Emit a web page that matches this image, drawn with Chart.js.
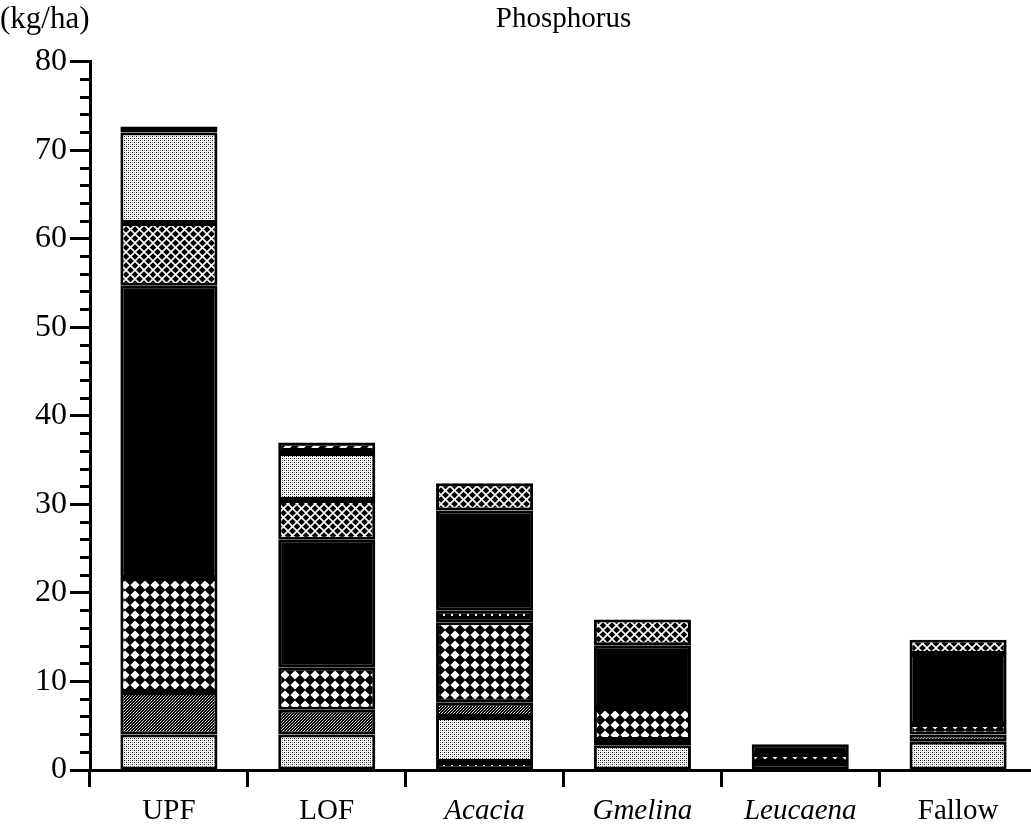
<!DOCTYPE html>
<html>
<head>
<meta charset="utf-8">
<script src="https://cdn.jsdelivr.net/npm/chart.js@4.4.1/dist/chart.umd.min.js"></script>
<style>
  html, body { margin: 0; padding: 0; background: #fff; overflow: hidden; }
  #wrap { width: 1037px; height: 827px; position: relative; }
</style>
</head>
<body>
<div id="wrap"><canvas id="chart"></canvas></div>
<script>
// categories (italic = genus names)
const sites = ['UPF', 'LOF', 'Acacia', 'Gmelina', 'Leucaena', 'Fallow'];
const italicSites = ['Acacia', 'Gmelina', 'Leucaena'];

// stacked components, bottom to top (kg/ha)
const dotsLow     = [0,    0,    0.9,  0,   0.8, 0];
const stippleLow  = [4.0,  4.0,  5.1,  2.8, 0,   3.2];
const stippleDark = [4.8,  2.8,  1.6,  0.6, 0,   0.8];
const crossCoarse = [12.9, 4.8,  9.1,  3.6, 1.0, 1.2];
const dotsHigh    = [0,    0,    1.3,  0,   0,   0];
const solidBlack  = [33.0, 14.4, 11.3, 7.1, 1.1, 7.9];
const crossFine   = [7.1,  4.5,  3.1,  2.9, 0,   1.6];
const stippleTop  = [10.2, 5.3,  0,    0,   0,   0];
const dashesTop   = [0.7,  1.2,  0,    0,   0,   0];

const yMax = 80;
const serif = 'Liberation Serif';

// small tiles used as fill patterns
function makePattern(w, h, draw) {
    const c = document.createElement('canvas');
    c.width = w; c.height = h;
    const g = c.getContext('2d');
    draw(g, w, h);
    return g.createPattern(c, 'repeat');
}

const pLightStipple = makePattern(4, 4, (g) => {
    g.fillStyle = '#fff'; g.fillRect(0, 0, 4, 4);
    g.fillStyle = '#000';
    g.fillRect(0, 0, 1, 1);
    g.fillRect(2, 2, 1, 1);
    g.fillStyle = '#888';
    g.fillRect(2, 0, 1, 1);
    g.fillRect(0, 2, 1, 1);
});
const pDarkStipple = makePattern(3, 3, (g) => {
    g.fillStyle = '#000'; g.fillRect(0, 0, 3, 3);
    g.fillStyle = '#fff';
    g.fillRect(1, 1, 1, 1);
    g.fillStyle = '#aaa';
    g.fillRect(0, 2, 1, 1);
    g.fillRect(2, 0, 1, 1);
});
const pCoarseCross = makePattern(10, 10, (g) => {
    g.fillStyle = '#000'; g.fillRect(0, 0, 10, 10);
    g.fillStyle = '#fff';
    g.beginPath();
    g.moveTo(5, 0.4); g.lineTo(9.6, 5); g.lineTo(5, 9.6); g.lineTo(0.4, 5);
    g.closePath(); g.fill();
});
const pFineCross = makePattern(9, 9, (g) => {
    g.fillStyle = '#000'; g.fillRect(0, 0, 9, 9);
    g.strokeStyle = '#fff'; g.lineWidth = 1.6;
    g.beginPath();
    g.moveTo(0, 0); g.lineTo(9, 9);
    g.moveTo(9, 0); g.lineTo(0, 9);
    g.stroke();
});
const pDots = makePattern(8, 6, (g) => {
    g.fillStyle = '#000'; g.fillRect(0, 0, 8, 6);
    g.fillStyle = '#fff'; g.fillRect(3, 2, 2, 2);
});
const pDashes = makePattern(14, 6, (g) => {
    g.fillStyle = '#000'; g.fillRect(0, 0, 14, 6);
    g.fillStyle = '#fff';
    g.beginPath();
    g.moveTo(3, 4); g.lineTo(5, 2); g.lineTo(12, 2); g.lineTo(10, 4);
    g.closePath(); g.fill();
});

function layer(label, data, fill) {
    return {
        label: label,
        data: data,
        backgroundColor: fill,
        borderColor: '#000',
        borderWidth: 3,
        borderSkipped: false,
        barPercentage: 0.615,
        categoryPercentage: 1.0
    };
}

const unitLabel = {
    id: 'unitLabel',
    afterDraw(chart) {
        const ctx = chart.ctx;
        ctx.save();
        ctx.font = '31px "' + serif + '"';
        ctx.fillStyle = '#000';
        ctx.textAlign = 'left';
        ctx.textBaseline = 'middle';
        ctx.fillText('(kg/ha)', 0, 20);
        ctx.restore();
    }
};

new Chart(document.getElementById('chart'), {
    type: 'bar',
    data: {
        labels: sites,
        datasets: [
            layer('dots (low)', dotsLow, pDots),
            layer('stipple', stippleLow, pLightStipple),
            layer('dark stipple', stippleDark, pDarkStipple),
            layer('coarse cross', crossCoarse, pCoarseCross),
            layer('dots (high)', dotsHigh, pDots),
            layer('solid', solidBlack, '#000'),
            layer('fine cross', crossFine, pFineCross),
            layer('stipple (top)', stippleTop, pLightStipple),
            layer('dashes', dashesTop, pDashes)
        ]
    },
    options: {
        responsive: true,
        maintainAspectRatio: false,
        animation: false,
        layout: { padding: 0 },
        plugins: {
            legend: { display: false },
            tooltip: { enabled: false },
            title: {
                display: true,
                text: 'Phosphorus',
                fullSize: false,
                color: '#000',
                font: { family: serif, size: 29, weight: 'normal' },
                padding: { top: 2, bottom: 25 }
            }
        },
        scales: {
            x: {
                stacked: true,
                grid: {
                    drawOnChartArea: false,
                    offset: true,
                    tickLength: 17,
                    tickWidth: 3,
                    tickColor: '#000'
                },
                border: { display: true, color: '#000', width: 3 },
                ticks: {
                    color: '#000',
                    padding: 7,
                    font: (c) => ({
                        family: serif,
                        size: 29,
                        style: italicSites.includes(sites[c.index]) ? 'italic' : 'normal'
                    })
                },
                afterFit: (s) => { s.height = 57; }
            },
            y: {
                stacked: true,
                min: 0,
                max: yMax,
                weight: 1,
                grid: {
                    drawOnChartArea: false,
                    tickLength: 20,
                    tickWidth: 3,
                    tickColor: '#000'
                },
                border: { display: true, color: '#000', width: 3 },
                ticks: {
                    stepSize: 10,
                    autoSkip: false,
                    color: '#000',
                    padding: 3,
                    font: { family: serif, size: 32 }
                },
                afterFit: (s) => { s.width = 90; }
            },
            yMinor: {
                position: 'left',
                min: 0,
                max: yMax,
                weight: 0,
                grid: {
                    drawOnChartArea: false,
                    tickLength: 10,
                    tickWidth: 3,
                    tickColor: '#000'
                },
                border: { display: false },
                ticks: { stepSize: 2, autoSkip: false, display: false },
                afterFit: (s) => { s.width = 0; }
            }
        }
    },
    plugins: [unitLabel]
});
</script>
</body>
</html>
